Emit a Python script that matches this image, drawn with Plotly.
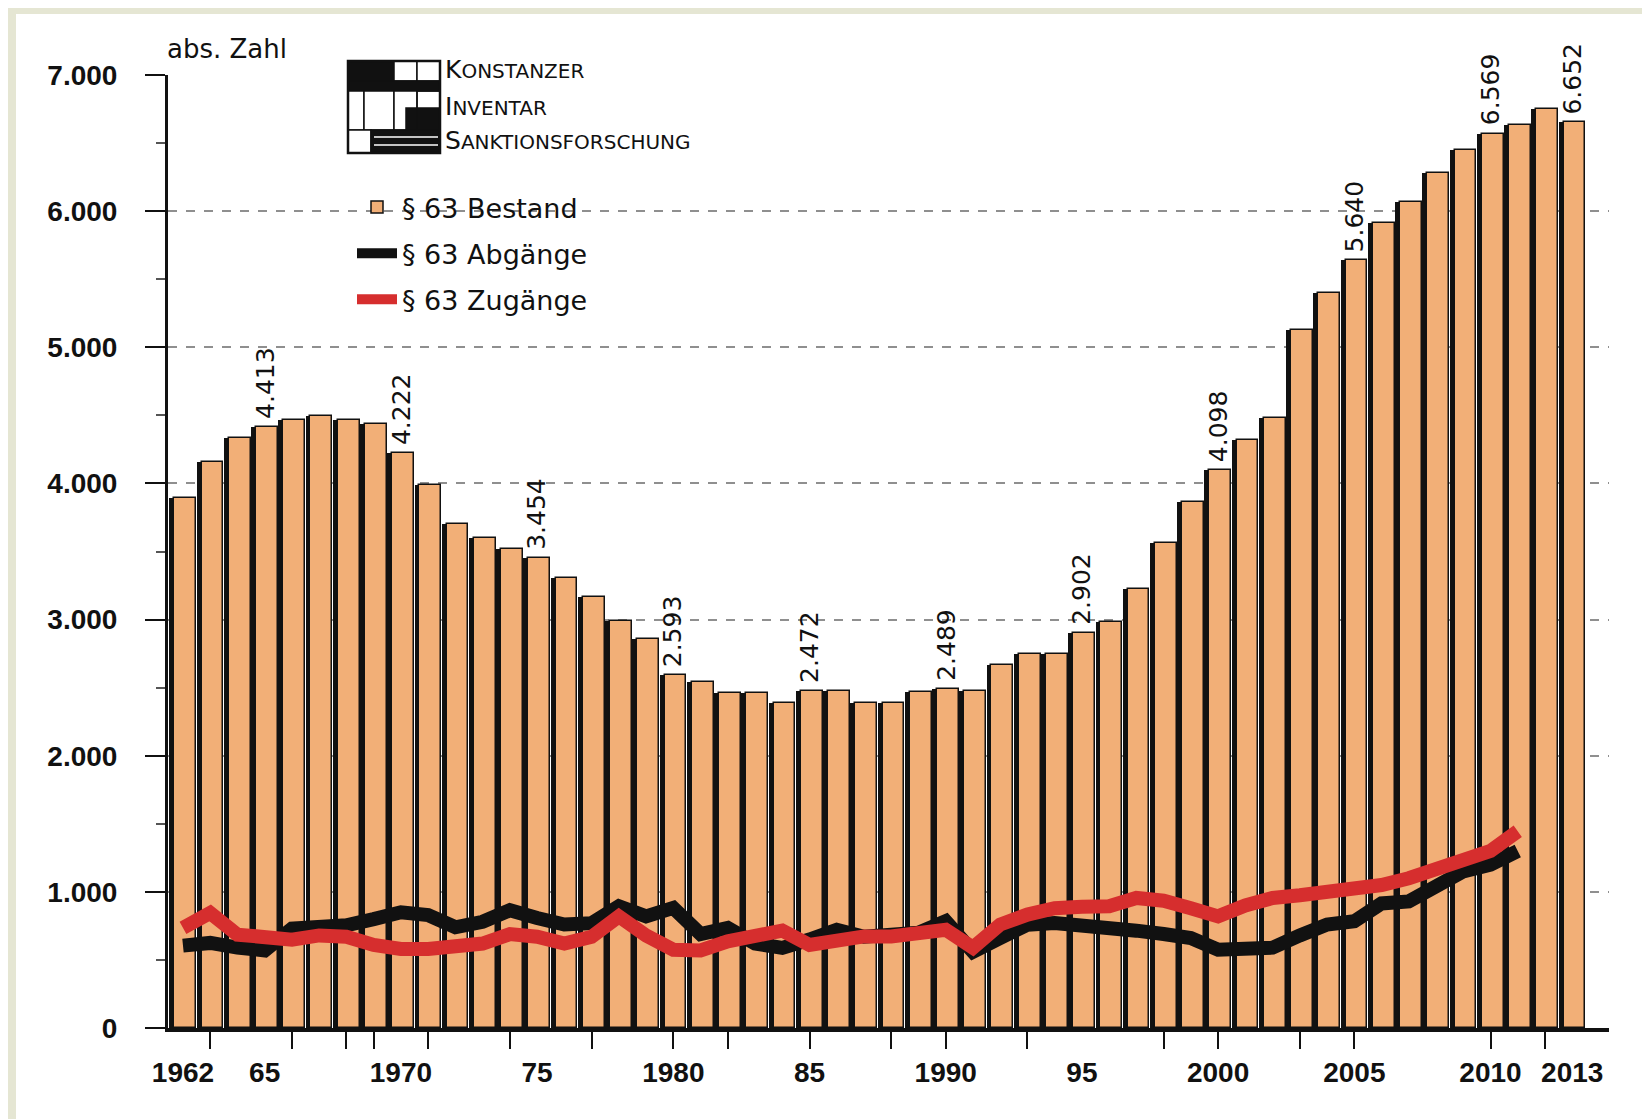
import plotly.graph_objects as go

# ---------------- data ----------------
years = list(range(1962, 2014))
bestand = [3890, 4155, 4335, 4413, 4465, 4495, 4465, 4440, 4222, 3990,
           3700, 3600, 3515, 3454, 3305, 3165, 2990, 2855, 2593, 2540,
           2460, 2460, 2385, 2472, 2475, 2385, 2385, 2465, 2489, 2475,
           2670, 2745, 2745, 2902, 2980, 3225, 3565, 3860, 4098, 4320,
           4480, 5130, 5400, 5640, 5910, 6070, 6280, 6450, 6569, 6630,
           6750, 6652]

line_years = list(range(1962, 2012))
abgaenge = [605, 625, 590, 570, 730, 745, 755, 800, 850, 830,
            740, 780, 865, 808, 760, 770, 894, 820, 882, 690,
            735, 620, 588, 650, 722, 670, 680, 700, 784, 560,
            661, 759, 771, 760, 735, 715, 690, 660, 575, 585,
            590, 680, 760, 784, 915, 930, 1029, 1150, 1200, 1300]
zugaenge = [735, 845, 686, 665, 649, 680, 670, 610, 580, 580,
            588, 620, 690, 670, 620, 670, 820, 680, 575, 570,
            637, 680, 715, 610, 640, 673, 673, 700, 722, 590,
            760, 833, 880, 890, 894, 955, 935, 880, 820, 900,
            955, 975, 1000, 1020, 1050, 1100, 1170, 1240, 1300, 1445]

label_years = [1965, 1970, 1975, 1980, 1985, 1990, 1995, 2000, 2005, 2010, 2013]
label_texts = ["4.413", "4.222", "3.454", "2.593", "2.472", "2.489",
               "2.902", "4.098", "5.640", "6.569", "6.652"]

x_label_vals = [1962, 1965, 1970, 1975, 1980, 1985, 1990, 1995, 2000, 2005, 2010, 2013]
x_label_text = ["1962", "65", "1970", "75", "1980", "85", "1990", "95",
                "2000", "2005", "2010", "2013"]
x_mark_vals = [1963, 1966, 1968, 1969, 1971, 1974, 1977, 1980, 1982, 1985,
               1988, 1990, 1993, 1998, 2000, 2003, 2005, 2010, 2012]

y_tick_vals = [0, 1000, 2000, 3000, 4000, 5000, 6000, 7000]
y_tick_text = ["0", "1.000", "2.000", "3.000", "4.000", "5.000", "6.000", "7.000"]

series_names = ["§ 63 Bestand", "§ 63 Abgänge", "§ 63 Zugänge"]
logo_lines = ["KONSTANZER", "INVENTAR", "SANKTIONSFORSCHUNG"]

# ---------------- layout geometry ----------------
W, H = 1650, 1119
L, R, T, B = 160, 49, 67, 99
PW, PH = W - L - R, H - T - B


def px(xp):
    return (xp - L) / PW


def py(yp):
    return (H - B - yp) / PH


BEIGE = "#E5E6D3"
ORANGE = "#F2AF77"
RED = "#D62E2E"
BLACK = "#111111"

fig = go.Figure()

# black left "shadow" stripe of each bar
fig.add_trace(go.Bar(
    x=years, y=bestand, width=0.2, offset=-0.5,
    marker=dict(color=BLACK, line=dict(width=0)),
    showlegend=False, hoverinfo="skip"))

# orange bars
fig.add_trace(go.Bar(
    x=years, y=bestand, width=0.8, offset=-0.32,
    marker=dict(color=ORANGE, line=dict(color=BLACK, width=1.5)),
    name=series_names[0], legendgroup="a"))

# Abgänge (black)
fig.add_trace(go.Scatter(
    x=line_years, y=abgaenge, mode="lines",
    line=dict(color=BLACK, width=14),
    name=series_names[1], legendgroup="b"))

# Zugänge (red)
fig.add_trace(go.Scatter(
    x=line_years, y=zugaenge, mode="lines",
    line=dict(color=RED, width=14),
    name=series_names[2], legendgroup="c"))

# invisible trace on overlay axis for the tick marks
fig.add_trace(go.Scatter(
    x=[x_mark_vals[0]], y=[0], xaxis="x2", mode="markers",
    marker=dict(opacity=0), showlegend=False, hoverinfo="skip"))

annotations = []
for yr, txt in zip(label_years, label_texts):
    annotations.append(dict(
        x=yr, y=bestand[years.index(yr)], xref="x", yref="y",
        text=txt, textangle=-90, showarrow=False,
        xanchor="center", yanchor="bottom", yshift=6,
        font=dict(family="DejaVu Sans", size=25, color=BLACK)))

annotations.append(dict(
    x=px(157), y=py(41), xref="paper", yref="paper", text="abs. Zahl",
    showarrow=False, xanchor="left", yanchor="middle",
    font=dict(family="DejaVu Sans", size=26, color=BLACK)))

for txt, yp in zip(logo_lines, [62, 99, 132]):
    annotations.append(dict(
        x=px(435), y=py(yp), xref="paper", yref="paper",
        text=txt[0] + "<span style='font-size:20px'>" + txt[1:] + "</span>",
        showarrow=False, xanchor="left", yanchor="middle",
        font=dict(family="DejaVu Sans", size=25, color=BLACK)))

shapes = []
# white page area over beige frame
shapes.append(dict(type="rect", xref="paper", yref="paper",
                   x0=px(8), x1=px(1643), y0=py(1111), y1=py(6),
                   fillcolor="white", line=dict(width=0), layer="below"))


def rect(x0, y0, x1, y1, fill=None, lw=1.5):
    return dict(type="rect", xref="paper", yref="paper",
                x0=px(x0), x1=px(x1), y0=py(y1), y1=py(y0),
                fillcolor=fill if fill else "rgba(0,0,0,0)",
                line=dict(color=BLACK, width=lw), layer="above")


# logo (grid icon)
shapes += [
    rect(340, 53, 386, 73, BLACK),
    rect(386, 53, 409, 73, "white"),
    rect(409, 53, 432, 73, "white"),
    rect(340, 73, 432, 83, BLACK),
    rect(340, 83, 356, 122, "white"),
    rect(356, 83, 386, 122, "white"),
    rect(386, 83, 409, 122, "white"),
    rect(398, 100, 432, 122, BLACK),
    rect(409, 83, 432, 122, "rgba(0,0,0,0)"),
    rect(340, 122, 363, 145, "white"),
    rect(363, 122, 432, 145, BLACK),
    rect(340, 53, 432, 145, None, 2.5),
]
for yl in [129, 137]:
    shapes.append(dict(type="line", xref="paper", yref="paper",
                       x0=px(366), x1=px(430), y0=py(yl), y1=py(yl),
                       line=dict(color="white", width=1.5), layer="above"))

fig.update_layout(
    width=W, height=H, autosize=False,
    margin=dict(l=L, r=R, t=T, b=B, pad=0),
    paper_bgcolor=BEIGE, plot_bgcolor="white",
    barmode="overlay", bargap=0,
    font=dict(family="Liberation Sans", color=BLACK),
    xaxis=dict(
        range=[1961.45, 2014.35], tickmode="array",
        tickvals=x_label_vals, ticktext=x_label_text, ticks="",
        ticklabelstandoff=16,
        tickfont=dict(family="Liberation Sans", size=28, color=BLACK, weight="bold"),
        showline=True, linecolor=BLACK, linewidth=4, showgrid=False,
        zeroline=False, fixedrange=True),
    xaxis2=dict(
        range=[1961.45, 2014.35], overlaying="x", anchor="y", side="bottom",
        tickmode="array", tickvals=x_mark_vals, showticklabels=False,
        ticks="outside", ticklen=20, tickwidth=2, tickcolor=BLACK,
        showline=False, showgrid=False, zeroline=False),
    yaxis=dict(
        range=[0, 7000], tickmode="array", tickvals=y_tick_vals,
        ticktext=y_tick_text, ticks="outside", ticklen=20, tickwidth=2,
        tickcolor=BLACK, ticklabelstandoff=22,
        tickfont=dict(family="Liberation Sans", size=28, color=BLACK, weight="bold"),
        showline=True, linecolor=BLACK, linewidth=3,
        showgrid=True, gridcolor="#8f8f8f", gridwidth=1.5, griddash="dash",
        zeroline=False,
        minor=dict(dtick=500, tick0=0, ticks="outside", ticklen=9,
                   tickwidth=1.5, tickcolor="#555555", showgrid=False)),
    legend=dict(
        x=px(344), y=py(175), xanchor="left", yanchor="top",
        bgcolor="rgba(0,0,0,0)", borderwidth=0,
        font=dict(family="DejaVu Sans", size=27, color=BLACK),
        tracegroupgap=8, itemwidth=40),
    annotations=annotations,
    shapes=shapes,
)

fig.write_html("out.html")
